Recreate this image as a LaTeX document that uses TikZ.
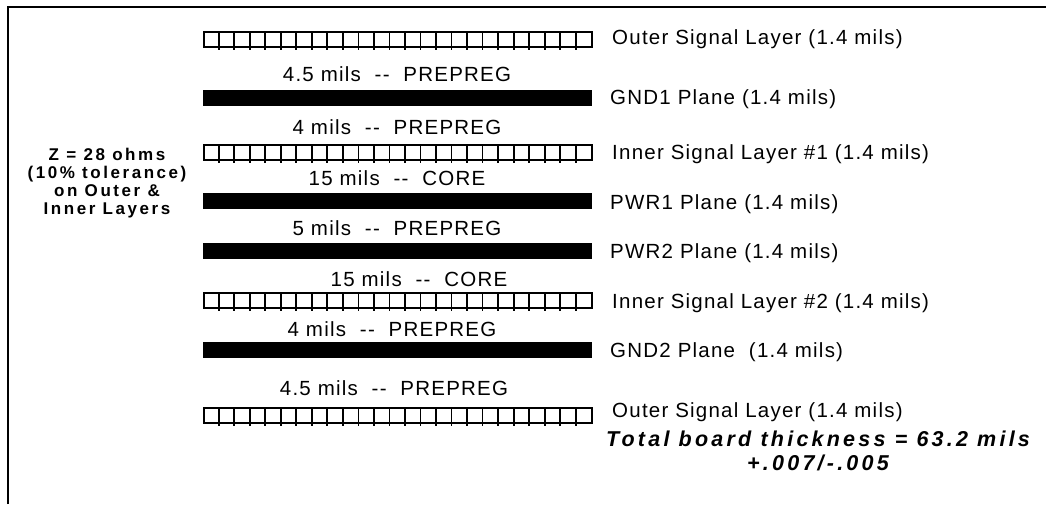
\documentclass[tikz,border=0pt]{standalone}
\usepackage{fontspec}
\setmainfont{Liberation Sans}[LetterSpace=6]
\begin{document}
\begin{tikzpicture}[x=1pt,y=-1pt,
  siglay/.style={draw, line width=1.6pt, minimum width=388pt, minimum height=15pt, inner sep=0pt},
  plane/.style={fill=black, minimum width=389pt, minimum height=16pt, inner sep=0pt},
  tick/.style={line width=1.8pt},
  lbl/.style={anchor=west, inner sep=0pt, font=\fontsize{20.5}{24}\selectfont},
  diel/.style={inner sep=0pt, font=\fontsize{20.5}{24}\selectfont},
  note/.style={inner sep=0pt, align=center, font=\fontsize{17}{18}\selectfont\bfseries\addfontfeature{LetterSpace=15}},
  total/.style={inner sep=0pt, align=center, font=\fontsize{21.5}{24}\selectfont\bfseries\itshape\addfontfeature{LetterSpace=15}}]
\useasboundingbox (0,0) rectangle (1046,504);
\draw[line width=2.6pt] (8,504) -- (8,7) -- (1046,7);
\newcommand{\siglayer}[2]{%
  \node[siglay] (#1) at (398,#2) {};
  \foreach \i in {1,...,24} \draw[tick] ([xshift=\i*15.52pt]#1.north west) -- ([xshift=\i*15.52pt,yshift=-2pt]#1.south west);
}
\siglayer{sigA}{39.5}
\node[plane] (gnd1) at (397,98) {};
\siglayer{sigB}{152.5}
\node[plane] (pwr1) at (397,201) {};
\node[plane] (pwr2) at (397,251) {};
\siglayer{sigC}{300.5}
\node[plane] (gnd2) at (397,350) {};
\siglayer{sigD}{415.5}
% right labels
\node[lbl] (lA) at (612,39) {Outer Signal Layer (1.4 mils)};
\node[lbl] (l1) at (610,99) {GND1 Plane (1.4 mils)};
\node[lbl] (lB) at (612,154) {Inner Signal Layer \#1 (1.4 mils)};
\node[lbl] (l2) at (610,204) {PWR1 Plane (1.4 mils)};
\node[lbl] (l3) at (610,253) {PWR2 Plane (1.4 mils)};
\node[lbl] (lC) at (612,303) {Inner Signal Layer \#2 (1.4 mils)};
\node[lbl] (l4) at (610,352) {GND2 Plane~ (1.4 mils)};
\node[lbl] (lD) at (612,412) {Outer Signal Layer (1.4 mils)};
% dielectrics
\node[diel] (d1) at (397,74) {4.5 mils~ -{}-~ PREPREG};
\node[diel] (d2) at (397,127) {4 mils~ -{}-~ PREPREG};
\node[diel] (d3) at (397,178) {15 mils~ -{}-~ CORE};
\node[diel] (d4) at (397,228) {5 mils~ -{}-~ PREPREG};
\node[diel] (d5) at (419,279) {15 mils~ -{}-~ CORE};
\node[diel] (d6) at (392,329) {4 mils~ -{}-~ PREPREG};
\node[diel] (d7) at (394,388) {4.5 mils~ -{}-~ PREPREG};
% left note
\node[note] (z) at (107,183) {Z = 28 ohms\\(10\% tolerance)\\on Outer \&\\Inner Layers};
% total
\node[total] (tot) at (818,451) {Total board thickness = 63.2 mils\\+.007/-.005};
\end{tikzpicture}
\end{document}
